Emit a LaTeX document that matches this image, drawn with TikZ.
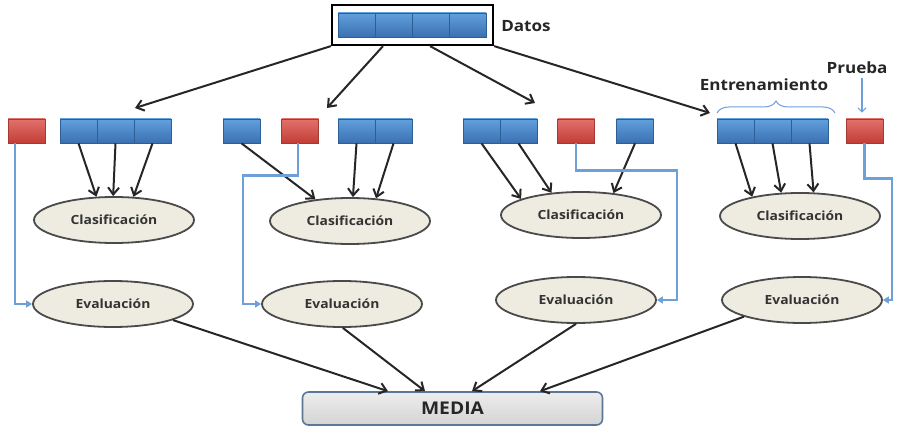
\documentclass[tikz,border=0pt]{standalone}
\usepackage{fontspec}
\setmainfont{Open Sans}[FakeStretch=1.1]
\usetikzlibrary{arrows.meta,shapes.geometric,decorations.pathreplacing,calc}
\definecolor{cellbluetop}{HTML}{62A0DC}
\definecolor{cellbluebot}{HTML}{3A70B2}
\definecolor{cellblueline}{HTML}{2E5E96}
\definecolor{cellredtop}{HTML}{E2716C}
\definecolor{cellredbot}{HTML}{C23D36}
\definecolor{cellredline}{HTML}{A33A34}
\definecolor{ellfill}{HTML}{EEECE1}
\definecolor{ellline}{HTML}{4A4A4A}
\definecolor{testblue}{HTML}{6E9FD8}
\definecolor{arrowdark}{HTML}{262626}
\definecolor{medialine}{HTML}{5A7896}
\tikzset{
  bcell/.style={rectangle, minimum width=37pt, minimum height=24pt, inner sep=0pt,
    top color=cellbluetop, bottom color=cellbluebot, draw=cellblueline, line width=0.7pt},
  rcell/.style={rectangle, minimum width=37pt, minimum height=24pt, inner sep=0pt,
    top color=cellredtop, bottom color=cellredbot, draw=cellredline, line width=0.7pt},
  ell/.style={ellipse, draw=ellline, line width=1.8pt, fill=ellfill, minimum width=160pt,
    minimum height=46pt, inner sep=0pt, text=black!80,
    font=\bfseries\fontsize{12.6}{14}\selectfont},
  arr/.style={draw=arrowdark, line width=2pt, -{Straight Barb[length=7pt,width=11pt]}},
  test/.style={draw=testblue, line width=2.3pt, -{Triangle[length=6pt,width=7pt]}},
  lbl/.style={font=\bfseries\fontsize{15.5}{17}\selectfont, text=black!85, inner sep=0pt},
}
\begin{document}
\begin{tikzpicture}[x=1pt,y=-1pt]
\useasboundingbox (0,0) rectangle (902,433);

% Datos
\node[draw=black, line width=2.2pt, fill=white, minimum width=161pt, minimum height=40pt, inner sep=0pt] (datos) at (412.5,25) {};
\node[bcell] (d1) at (356.5,25) {};
\node[bcell] (d2) at (393.5,25) {};
\node[bcell] (d3) at (430.5,25) {};
\node[bcell] (d4) at (467.5,25) {};
\node[lbl] (datoslbl) at (526,26) {Datos};

% Row of folds
\node[rcell] (r1) at (26.5,131) {};
\node[bcell] (b11) at (78.5,131) {};
\node[bcell] (b12) at (115.5,131) {};
\node[bcell] (b13) at (152.5,131) {};

\node[bcell] (b21) at (241.5,131) {};
\node[rcell] (r2) at (300,131) {};
\node[bcell] (b22) at (356.5,131) {};
\node[bcell] (b23) at (393.5,131) {};

\node[bcell] (b31) at (481.5,131) {};
\node[bcell] (b32) at (518.5,131) {};
\node[rcell] (r3) at (576,131) {};
\node[bcell] (b33) at (635,131) {};

\node[bcell] (b41) at (735.5,131) {};
\node[bcell] (b42) at (772.5,131) {};
\node[bcell] (b43) at (809.5,131) {};
\node[rcell] (r4) at (864.5,131) {};

% Labels
\node[lbl] (entr) at (764,85) {Entrenamiento};
\node[lbl] (prueba) at (857,68) {Prueba};
\coordinate (brL) at (717,113);
\coordinate (brR) at (835,113);
\draw[testblue, line width=1pt, decorate, decoration={brace, amplitude=12pt}] (brL) -- (brR);
\coordinate (pr1) at ([xshift=-2.5pt]prueba.south -| r4.north);
\draw[testblue, line width=1.1pt, -{Straight Barb[length=4pt,width=8pt]}, shorten <=4pt, shorten >=6pt] (pr1) -- (pr1 |- r4.north);

% Ellipses
\node[ell] (cl1) at (114,220) {Clasificación};
\node[ell] (cl2) at (350,221) {Clasificación};
\node[ell] (cl3) at (581,215) {Clasificación};
\node[ell] (cl4) at (800,216) {Clasificación};
\node[ell] (ev1) at (113,304) {Evaluación};
\node[ell] (ev2) at (342,304) {Evaluación};
\node[ell] (ev3) at (576,300) {Evaluación};
\node[ell] (ev4) at (802,300) {Evaluación};

% MEDIA
\node[rectangle, rounded corners=6pt, minimum width=300pt, minimum height=33pt, inner sep=0pt,
  top color=black!7, bottom color=black!17, draw=medialine, line width=1.6pt,
  font=\bfseries\fontsize{17.5}{19}\selectfont, text=black!85] (media) at (452.5,408.5) {MEDIA};

% Arrows from Datos
\coordinate (t1) at (135,108);
\coordinate (t2) at (327,108);
\coordinate (t3) at (535,103);
\coordinate (t4) at (710,113);
\draw[arr] (datos.south west) -- (t1);
\draw[arr] ([xshift=-29.5pt]datos.south) -- (t2);
\draw[arr] ([xshift=17.5pt]datos.south) -- (t3);
\draw[arr] (datos.south east) -- (t4);

% Training arrows
\draw[arr] (b11.south) -- (cl1.127);
\draw[arr] (b12.south) -- (cl1.92);
\draw[arr] (b13.south) -- (cl1.50);

\draw[arr] (b21.south) -- (cl2.148);
\draw[arr] (b22.south) -- (cl2.83);
\draw[arr] (b23.south) -- (cl2.41);

\draw[arr] (b31.south) -- (cl3.165);
\draw[arr] (b32.south) -- (cl3.143);
\draw[arr] (b33.south) -- (cl3.34);

\draw[arr] (b41.south) -- (cl4.158);
\draw[arr] (b42.south) -- (cl4.129);
\draw[arr] (b43.south) -- (cl4.60);

% Test lines
\draw[test] ([xshift=-11.5pt]r1.south) |- (ev1.west);
\draw[test] ([xshift=-2pt]r2.south) -- ++(0,32) -- ++(-55,0) |- (ev2.west);
\draw[test] (r3.south) -- ++(0,27) -- ++(101,0) |- (ev3.east);
\draw[test] (r4.south) -- ++(0,35) -- ++(27.5,0) |- (ev4.east);

% To MEDIA
\draw[arr] (ev1.-15) -- ([xshift=-64.5pt]media.north);
\draw[arr] (ev2.-88) -- ([xshift=-27.5pt]media.north);
\draw[arr] (ev3.-90) -- ([xshift=19.5pt]media.north);
\draw[arr] (ev4.196) -- ([xshift=87.5pt]media.north);
\end{tikzpicture}
\end{document}
